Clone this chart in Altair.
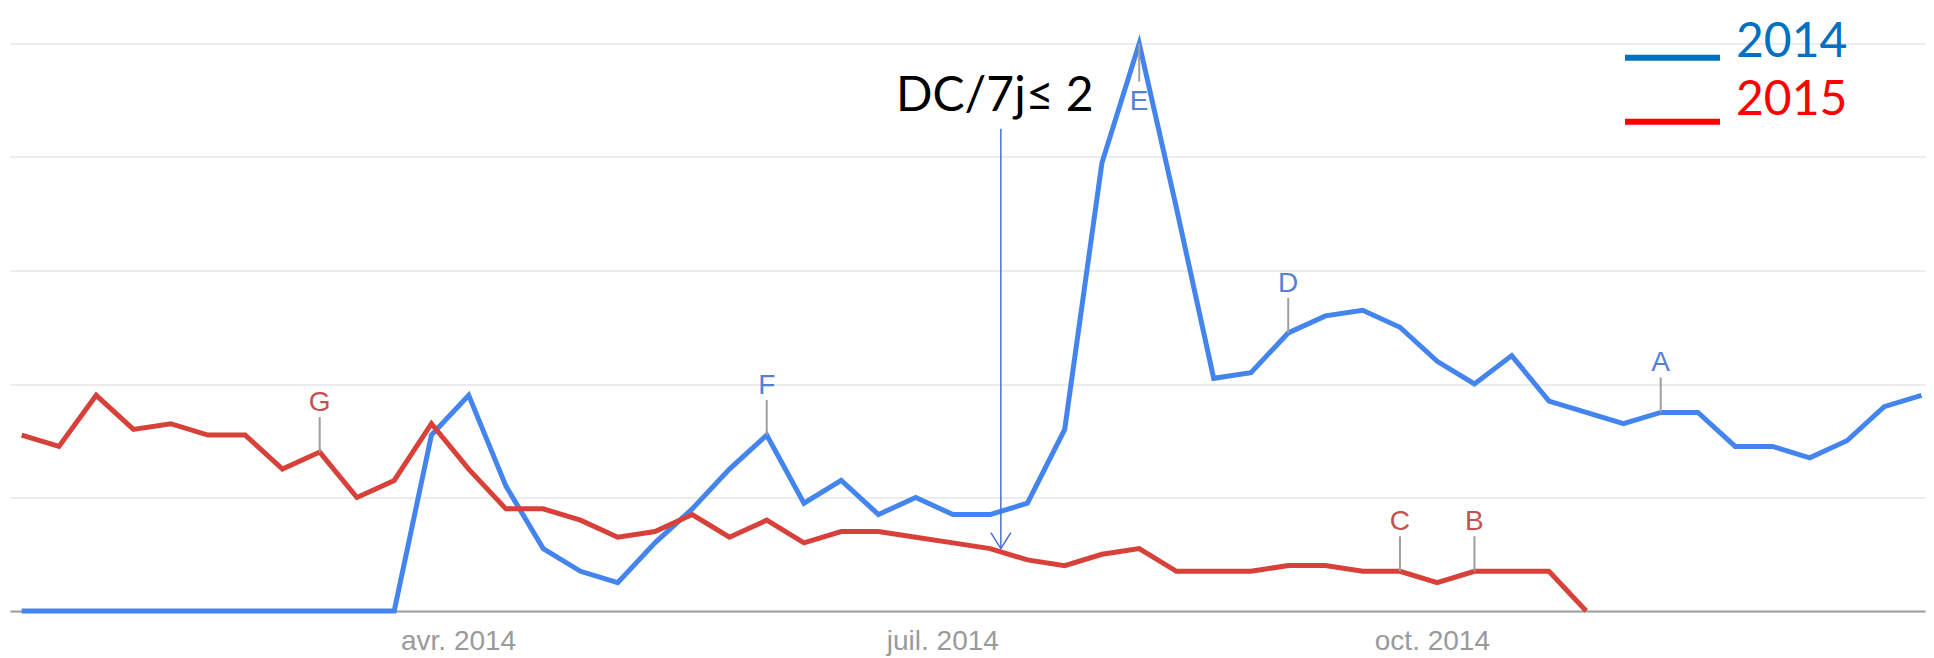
import altair as alt
import pandas as pd

# ---------------- data ----------------
first_week = "2014-01-09"
n_weeks = 52

values_2014 = [0, 0, 0, 0, 0, 0, 0, 0, 0, 0, 0,
               31, 38, 22, 11, 7, 5, 12, 18, 25, 31, 19, 23, 17, 20, 17, 17, 19, 32,
               79, 100, 71, 41, 42, 49, 52, 53, 50, 44, 40, 45, 37, 35, 33, 35, 35,
               29, 29, 27, 30, 36, 38]
values_2015 = [31, 29, 38, 32, 33, 31, 31, 25, 28, 20, 23, 33, 25, 18, 18, 16, 13,
               14, 17, 13, 16, 12, 14, 14, 13, 12, 11, 9, 8, 10, 11, 7, 7, 7, 8, 8,
               7, 7, 5, 7, 7, 7, 0]

series_names = ["2014", "2015"]
line_colors = ["#4384ee", "#d8413a"]
legend_colors = ["#0070c0", "#ff0000"]

flag_letters = ["G", "F", "E", "D", "C", "B", "A"]
flag_series = ["2015", "2014", "2014", "2014", "2015", "2015", "2014"]
flag_week = [8, 20, 30, 34, 37, 39, 44]
flag_below = [False, False, True, False, False, False, False]
flag_colors = {"2014": "#5580d8", "2015": "#c55150"}

arrow_date = "2014-07-12"
arrow_top = 85
arrow_tip = 11
arrow_text = "DC/7j\u2264 2"

tick_months = [4, 7, 10]
tick_labels = ["avr. 2014", "juil. 2014", "oct. 2014"]
grid_values = [0, 20, 40, 60, 80, 100]

# ---------------- tables ----------------
start = pd.Timestamp(first_week)
dates = [(start + pd.Timedelta(days=7 * i)).strftime("%Y-%m-%d") for i in range(n_weeks)]

df14 = pd.DataFrame({"date": dates[:len(values_2014)], "value": values_2014})
df15 = pd.DataFrame({"date": dates[:len(values_2015)], "value": values_2015})
series_vals = {"2014": values_2014, "2015": values_2015}

flags = pd.DataFrame({
    "letter": flag_letters,
    "date": [dates[w] for w in flag_week],
    "value": [series_vals[s][w] for s, w in zip(flag_series, flag_week)],
    "color": [flag_colors[s] for s in flag_series],
    "below": flag_below,
})
arrow_df = pd.DataFrame({"date": [arrow_date], "top": [arrow_top], "tip": [arrow_tip],
                         "label": [arrow_text]})

# ---------------- scales / axes ----------------
label_expr = ""
for m, lab in zip(tick_months, tick_labels):
    label_expr += f"utcmonth(datum.value) == {m - 1} ? '{lab}' : "
label_expr += "''"

x_scale = alt.Scale(type="utc", domain=[
    alt.DateTime(year=2014, month=1, date=6, hours=19, minutes=12, utc=True),
    alt.DateTime(year=2015, month=1, date=1, hours=16, utc=True)])
y_scale = alt.Scale(domain=[0, 100], nice=False, zero=True)

x_axis = alt.Axis(values=[alt.DateTime(year=2014, month=m, date=1, utc=True) for m in tick_months],
                  labelExpr=label_expr, ticks=False, grid=False, domainColor="#9e9e9e",
                  domainWidth=2, labelFont="Liberation Sans", labelFontSize=28,
                  labelColor="#9a9a9a", labelPadding=16, title=None, labelFlush=False,
                  labelOverlap=False)
y_axis = alt.Axis(values=grid_values, labels=False, ticks=False, domain=False, grid=True,
                  gridColor="#ececec", gridWidth=2, title=None)

X = alt.X("date:T", scale=x_scale, axis=x_axis)
Y = alt.Y("value:Q", scale=y_scale, axis=y_axis)

# ---------------- layers ----------------
line14 = alt.Chart(df14).mark_line(strokeWidth=5, color=line_colors[0]).encode(x=X, y=Y)
line15 = alt.Chart(df15).mark_line(strokeWidth=5, color=line_colors[1]).encode(x=X, y=Y)

flags_up = alt.Chart(flags).transform_filter("!datum.below")
flags_dn = alt.Chart(flags).transform_filter("datum.below")

tick_up = flags_up.mark_tick(orient="vertical", size=35, thickness=2, color="#9e9e9e",
                             yOffset=-17.5, opacity=1).encode(x=X, y=Y)
tick_dn = flags_dn.mark_tick(orient="vertical", size=38, thickness=2, color="#9e9e9e",
                             yOffset=19, opacity=1).encode(x=X, y=Y)
text_up = flags_up.mark_text(font="Liberation Sans", fontSize=28, baseline="alphabetic",
                             align="center", dy=-41).encode(
    x=X, y=Y, text="letter:N", color=alt.Color("color:N", scale=None))
text_dn = flags_dn.mark_text(font="Liberation Sans", fontSize=28, baseline="alphabetic",
                             align="center", dy=66).encode(
    x=X, y=Y, text="letter:N", color=alt.Color("color:N", scale=None))

arrow_line = alt.Chart(arrow_df).mark_rule(color="#4a6fdc", strokeWidth=1.5).encode(
    x=alt.X("date:T", scale=x_scale, axis=x_axis),
    y=alt.Y("top:Q", scale=y_scale, axis=y_axis), y2="tip:Q")
arrow_head = alt.Chart(arrow_df).mark_point(shape="M-1,-1.6L0,0L1,-1.6", filled=False,
                                            size=400, strokeWidth=1.5, color="#4a6fdc",
                                            opacity=1).encode(
    x=alt.X("date:T", scale=x_scale, axis=x_axis),
    y=alt.Y("tip:Q", scale=y_scale, axis=y_axis))
arrow_label = alt.Chart(arrow_df).mark_text(font="Lato", fontSize=48, color="#000000",
                                            baseline="alphabetic", align="center",
                                            dx=-6, dy=-18).encode(
    x=alt.X("date:T", scale=x_scale, axis=x_axis),
    y=alt.Y("top:Q", scale=y_scale, axis=y_axis), text="label:N")

legend_layers = []
legend_line_y = [14.2, 78.2]
legend_text_y = [13.0, 71.5]
for i, (lab, col) in enumerate(zip(series_names, legend_colors)):
    ldf = pd.DataFrame({"label": [lab]})
    legend_layers.append(alt.Chart(ldf).mark_rule(strokeWidth=6, color=col).encode(
        x=alt.value(1615), x2=alt.value(1710), y=alt.value(legend_line_y[i])))
    legend_layers.append(alt.Chart(ldf).mark_text(font="Lato", fontSize=48, color=col,
                                                  align="left", baseline="alphabetic").encode(
        x=alt.value(1726), y=alt.value(legend_text_y[i]), text="label:N"))

chart = alt.layer(line14, line15, tick_up, tick_dn, arrow_line, arrow_head, arrow_label,
                  text_up, text_dn, *legend_layers).properties(
    width=1915, height=567.5,
    autosize=alt.AutoSizeParams(type="none"),
    padding={"left": 2, "top": 35.5, "right": 1, "bottom": 45},
).configure_view(strokeWidth=0)

chart.save("out.html", embed_options={"renderer": "svg", "actions": False})
